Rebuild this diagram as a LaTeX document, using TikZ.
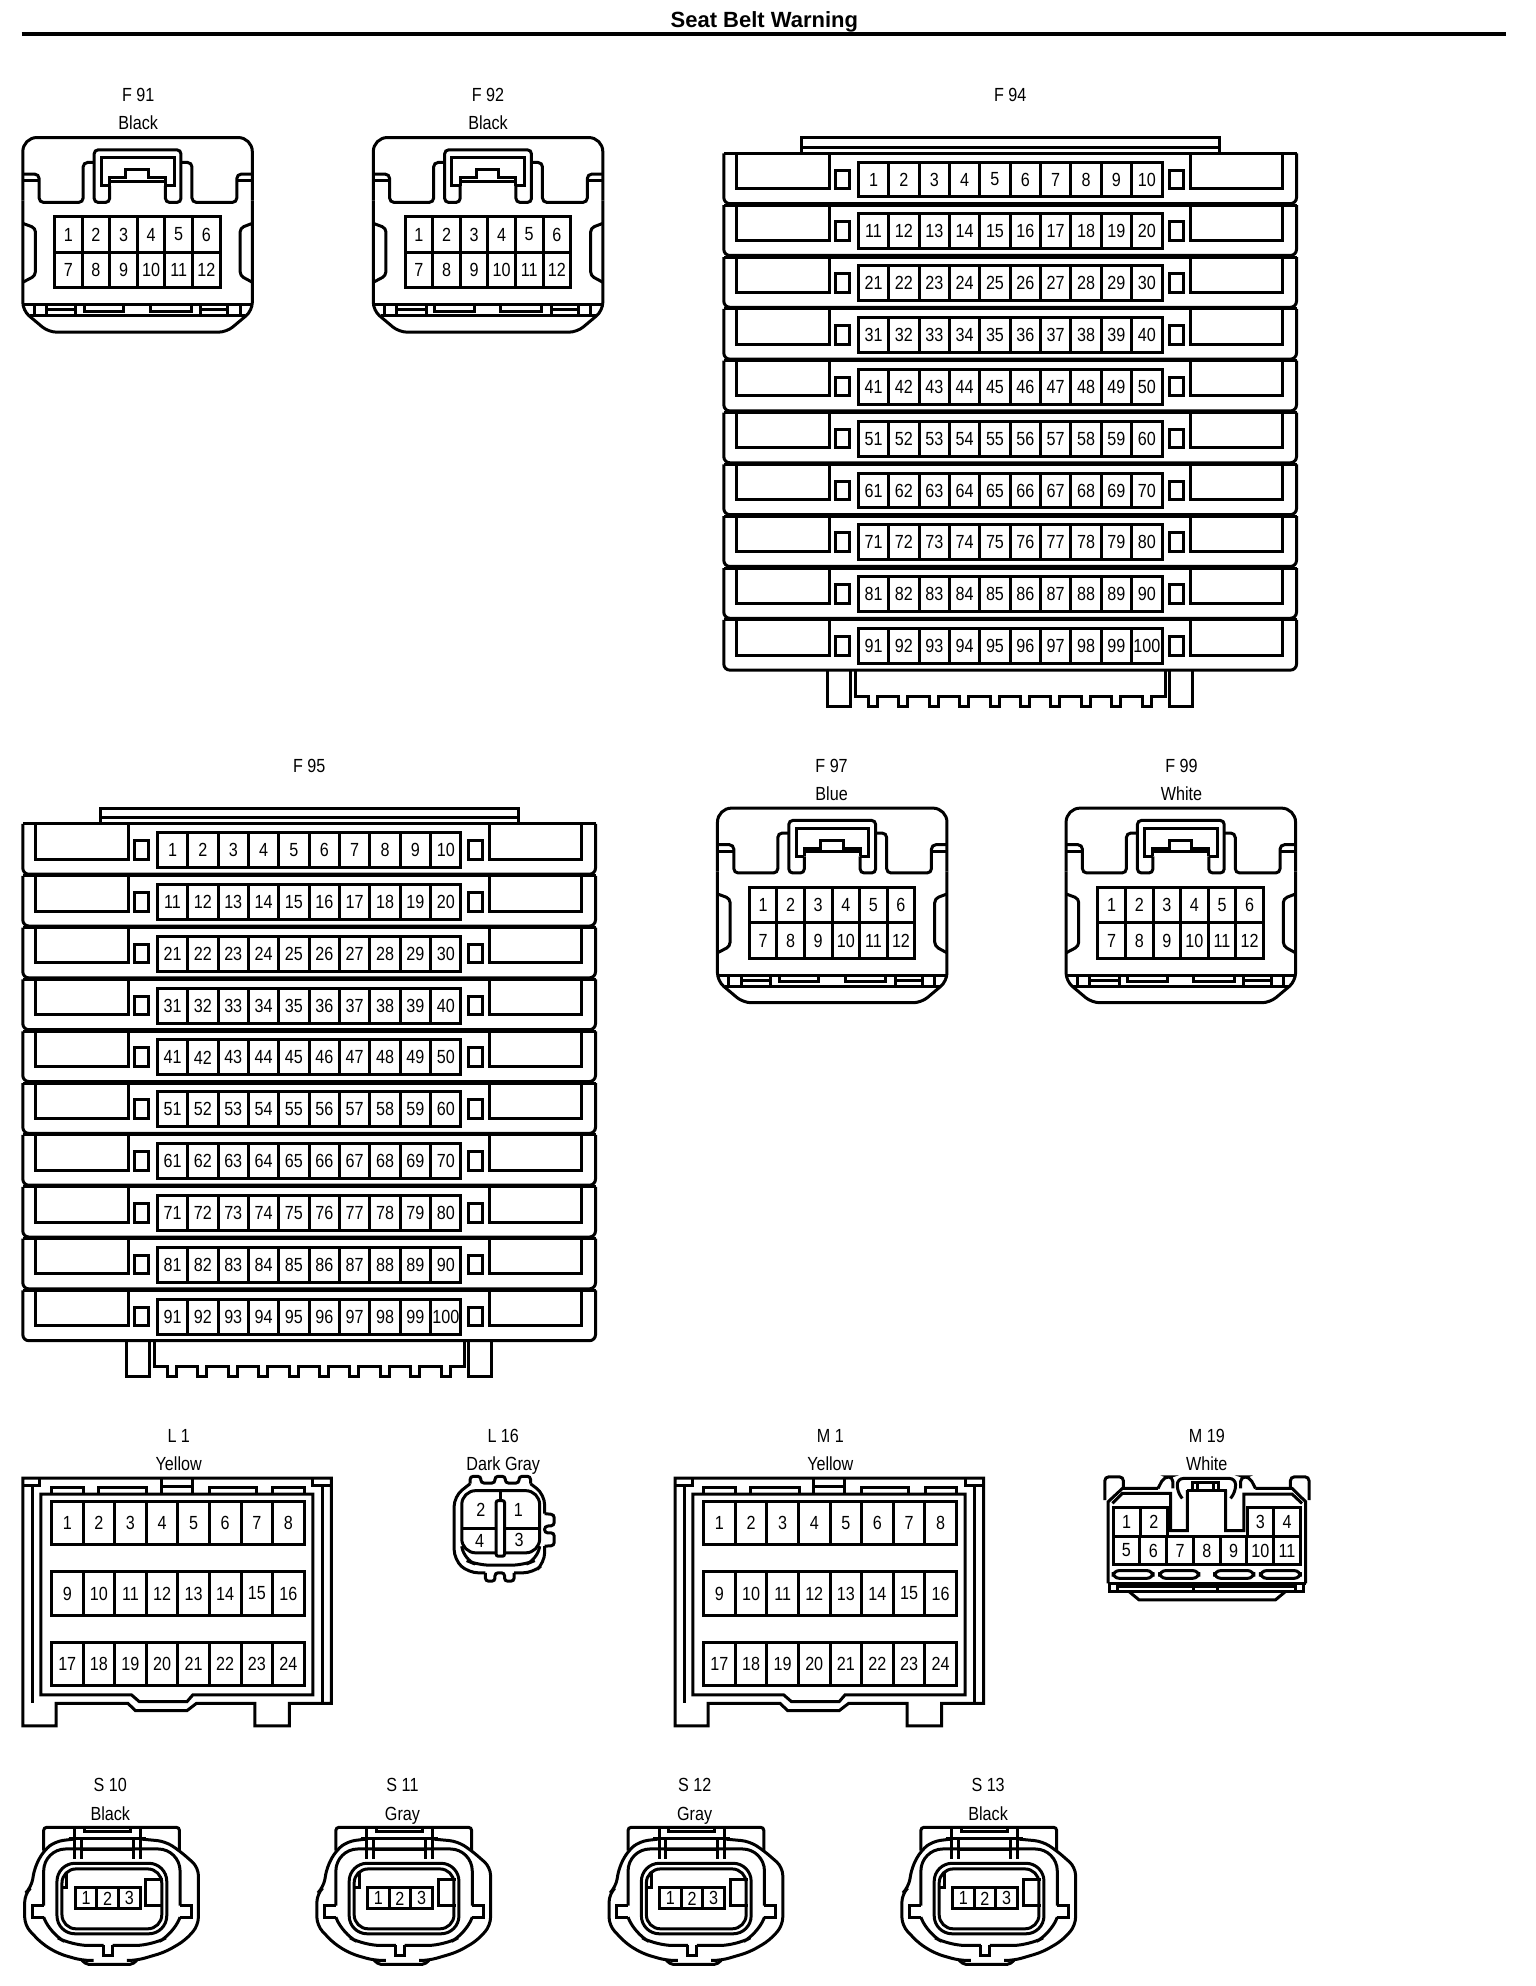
\documentclass[tikz,border=0pt]{standalone}
\usepackage{fontspec}
\setmainfont{Liberation Sans}
\newfontfamily\cellfont[FakeStretch=0.85]{Liberation Sans}
\newcommand\cellrow[7]{%
  \foreach \i in {1,...,#6}{%
    \pgfmathtruncatemacro\cnum{#7+\i-1}%
    \draw ({#2+(\i-1)*#4},{#3}) rectangle ({#2+\i*#4},{#3+#5});
    \node[celltext] (#1-\cnum) at ({#2+(\i-.5)*#4},{#3+#5/2}) {\cnum};
  }}
\newcommand\tag[4]{% name, x, y, text
  \node[lbl] (#1) at (#2,#3) {#4};}
% small 12-pin connector
\newcommand\tinyconn[3]{%
\begin{scope}[shift={(#2,#3)},x=0.2038pt,y=-0.16634pt,shift={(-57,-410)}]
  \draw[rounded corners=7pt] (57,600) -- (57,410) -- (620,410) -- (620,600);
  \draw[rounded corners=4pt] (57,600) -- (57,930) -- (120,995) -- (557,995) -- (620,930) -- (620,600);
  \draw[rounded corners=2.2pt] (57,520) -- (97,520) -- (97,605) -- (205,605) -- (205,485) -- (232,485);
  \draw (57,540) -- (97,540) (620,540) -- (582,540);
  \draw[rounded corners=2.2pt] (620,520) -- (582,520) -- (582,605) -- (472,605) -- (472,485) -- (445,485);
  \draw[rounded corners=2pt] (270,555) -- (270,605) -- (232,605) -- (232,447) -- (445,447) -- (445,605) -- (407,605) -- (407,555);
  \draw (270,555) -- (250,555) -- (250,470) -- (428,470) -- (428,555) -- (407,555);
  \draw (270,555) -- (270,530) -- (310,530) -- (310,507) -- (365,507) -- (365,530) -- (407,530) -- (407,555);
  \draw (270,541) -- (407,541);
  \draw[rounded corners=2pt] (57,668) -- (88,682) -- (88,825) -- (57,845);
  \draw[rounded corners=2pt] (620,668) -- (590,682) -- (590,825) -- (620,845);
  \cellrow{#1}{135}{648}{67.67}{107}{6}{1}
  \cellrow{#1}{135}{755}{67.67}{107}{6}{7}
  \draw (57,912) -- (620,912) (75,945) -- (603,945);
  \draw (85,912) -- (85,945) (115,912) -- (115,945) (187,912) -- (187,945);
  \draw (117,928) -- (187,928);
  \draw (208,912) -- (208,932) -- (305,932) -- (305,912);
  \draw (370,912) -- (370,932) -- (470,932) -- (470,912);
  \draw (493,912) -- (493,945) (560,912) -- (560,945) (590,912) -- (590,945);
  \draw (493,928) -- (560,928);
\end{scope}}
% 100-pin connector
\newcommand\rackconn[3]{%
\begin{scope}[shift={(#2,#3)},x=0.2038pt,y=-0.16634pt,shift={(-55,-97)}]
  \draw (245,97) -- (245,50) -- (1270,50) -- (1270,97);
  \draw (245,78) -- (1270,78);
  \foreach \r in {0,...,9}{%
    \pgfmathtruncatemacro\st{10*\r+1}%
    \begin{scope}[shift={(0,\r*155.8)}]
      \draw (55,97) -- (1460,97);
      \draw[rounded corners=3pt] (55,97) -- (55,248) -- (1460,248) -- (1460,97);
      \draw (85,97) -- (85,203) -- (315,203) -- (315,97);
      \draw (1200,97) -- (1200,203) -- (1425,203) -- (1425,97);
      \draw (330,147) rectangle (363,203);
      \draw (1148,147) rectangle (1182,203);
      \cellrow{#1}{385}{123}{74.5}{105}{10}{\st}
    \end{scope}}
  \draw (310,1651) -- (310,1759) -- (365,1759) -- (365,1651);
  \draw (1148,1651) -- (1148,1759) -- (1205,1759) -- (1205,1651);
  \draw (378,1651) -- (378,1729)
    foreach \k in {0,...,9}{ -- ({410+\k*74.6},1729) -- ({410+\k*74.6},1759) -- ({432+\k*74.6},1759) -- ({432+\k*74.6},1729)}
    -- (1138,1729) -- (1138,1651);
\end{scope}}
% 24-pin connector
\newcommand\boxconn[3]{%
\begin{scope}[shift={(#2,#3)},x=0.1909pt,y=-0.16634pt,shift={(-60,-170)}]
  \draw (147,847) -- (147,915) -- (60,915) -- (60,170) -- (868,170) -- (868,847) -- (758,847) -- (758,915) -- (668,915) -- (668,847) -- (515,847) -- (490,869) -- (355,869) -- (335,847) -- cycle;
  \draw (85,193) -- (85,847) (845,193) -- (845,847);
  \draw (60,193) -- (105,193) -- (105,170) (868,193) -- (820,193) -- (820,170);
  \draw (107,218) -- (107,822) -- (345,822) -- (365,842) -- (490,842) -- (505,822) -- (820,822) -- (820,218) -- cycle;
  \draw (135,218) -- (135,197) -- (218,197) -- (218,218);
  \draw (258,218) -- (258,197) -- (385,197) -- (385,218);
  \draw (423,170) -- (423,218) (505,170) -- (505,218) (423,195) -- (505,195);
  \draw (548,218) -- (548,197) -- (672,197) -- (672,218);
  \draw (715,218) -- (715,197) -- (798,197) -- (798,218);
  \cellrow{#1}{135}{240}{82.75}{130}{8}{1}
  \cellrow{#1}{135}{452}{82.75}{130}{8}{9}
  \cellrow{#1}{135}{664}{82.75}{130}{8}{17}
\end{scope}}
% 3-pin sensor connector
\newcommand\sensor[3]{%
\begin{scope}[shift={(#2,#3)},x=0.16634pt,y=-0.16634pt,shift={(-8,-168)}]
  \draw[rounded corners=1.5pt] (65,240) -- (65,170) -- (473,170) -- (473,240);
  \draw (158,170) -- (158,205) (355,170) -- (355,205) (158,205) -- (158,265) (355,205) -- (355,265) (178,205) -- (178,265) (335,205) -- (335,265);
  \draw (188,172) -- (188,182) -- (325,182) -- (325,172);
  \draw (140,205) -- (372,205) (178,238) -- (335,238);
  \draw[rounded corners=4pt] (158,205) -- (100,212) -- (65,240) -- (38,290) -- (28,350) -- (8,370) -- (8,465) -- (60,520) -- (110,550) -- (180,570) -- (215,570);
  \draw[rounded corners=1pt] (180,570) -- (195,582) -- (330,582) -- (345,570);
  \draw[rounded corners=4pt] (315,570) -- (345,570) -- (430,545) -- (490,510) -- (530,465) -- (530,290) -- (473,240) -- (430,212) -- (355,205);
  \draw[rounded corners=11pt] (65,405) -- (65,235) -- (475,235) -- (475,405);
  \draw (65,405) -- (30,405) -- (30,440) -- (65,440);
  \draw (475,405) -- (508,405) -- (508,440) -- (475,440);
  \draw[rounded corners=8pt] (65,440) -- (85,490) -- (150,525) -- (245,525);
  \draw (245,525) -- (245,555) -- (272,555) -- (272,525);
  \draw[rounded corners=8pt] (272,525) -- (390,525) -- (455,490) -- (475,440);
  \draw[rounded corners=9pt,fill=white] (105,278) rectangle (435,490);
  \draw[rounded corners=7pt] (120,295) rectangle (420,475);
  \draw (122,350) -- (135,350) -- (135,305);
  \cellrow{#1}{160}{352}{65}{63}{3}{1}
  \draw (425,328) -- (372,328) -- (372,405) -- (425,405);
\end{scope}}
\begin{document}
\begin{tikzpicture}[x=0.6338pt,y=-0.6338pt,line width=1.5pt,
  celltext/.style={inner sep=0pt,font=\cellfont\fontsize{9.5}{10}\selectfont},
  lbl/.style={inner sep=0pt,text height=6.5pt,text depth=0pt,font=\cellfont\fontsize{9.5}{10}\selectfont}]
\useasboundingbox (0,0) rectangle (1211.7,1566.7);
\node[inner sep=0pt,font=\bfseries\fontsize{11}{12}\selectfont] (title) at (603,17) {Seat Belt Warning};
\draw[line width=2pt] (17,27) -- (1188,27);

\tag{F91a}{109}{75}{F 91}\tag{F91b}{109}{97}{Black}
\tag{F92a}{385}{75}{F 92}\tag{F92b}{385}{97}{Black}
\tag{F94a}{797}{75}{F 94}
\tag{F95a}{244}{604}{F 95}
\tag{F97a}{656}{604}{F 97}\tag{F97b}{656}{626}{Blue}
\tag{F99a}{932}{604}{F 99}\tag{F99b}{932}{626}{White}
\tag{L1a}{141}{1133}{L 1}\tag{L1b}{141}{1155}{Yellow}
\tag{L16a}{397}{1133}{L 16}\tag{L16b}{397}{1155}{Dark Gray}
\tag{M1a}{655}{1133}{M 1}\tag{M1b}{655}{1155}{Yellow}
\tag{M19a}{952}{1133}{M 19}\tag{M19b}{952}{1155}{White}
\tag{S10a}{87}{1408}{S 10}\tag{S10b}{87}{1431}{Black}
\tag{S11a}{317.5}{1408}{S 11}\tag{S11b}{317.5}{1431}{Gray}
\tag{S12a}{548}{1408}{S 12}\tag{S12b}{548}{1431}{Gray}
\tag{S13a}{779.5}{1408}{S 13}\tag{S13b}{779.5}{1431}{Black}

\tinyconn{F91}{18}{108.5}
\tinyconn{F92}{294.5}{108.5}
\tinyconn{F97}{566}{637.5}
\tinyconn{F99}{841}{637.5}
\rackconn{F94}{571}{121}
\rackconn{F95}{18}{650}
\boxconn{L1}{18}{1166}
\boxconn{M1}{532.5}{1166}
\sensor{S10}{19.5}{1441}
\sensor{S11}{250}{1441}
\sensor{S12}{480.5}{1441}
\sensor{S13}{711.5}{1441}

% L16
\begin{scope}[shift={(395,1204)},x=0.1909pt,y=-0.16634pt,shift={(-1310,-320)}]
  \draw[rounded corners=1.5pt] (1230,192) -- (1230,170) -- (1258,170) -- (1258,190) -- (1295,190) -- (1295,170) -- (1322,170) -- (1322,190) -- (1358,190) -- (1358,170) -- (1388,170) -- (1388,192);
  \draw[rounded corners=5pt] (1388,192) -- (1425,225) -- (1425,282);
  \draw[rounded corners=1.5pt] (1425,282) -- (1450,285) -- (1450,318) -- (1425,320) -- (1425,340) -- (1450,340) -- (1450,378) -- (1425,380);
  \draw[rounded corners=5pt] (1425,380) -- (1425,430) -- (1395,460) -- (1345,460);
  \draw[rounded corners=1.5pt] (1345,460) -- (1345,485) -- (1320,485) -- (1320,460) -- (1295,460) -- (1295,485) -- (1270,485) -- (1270,460);
  \draw[rounded corners=5pt] (1270,460) -- (1225,460) -- (1188,420) -- (1188,230) -- (1230,192);
  \draw[rounded corners=7pt] (1208,213) rectangle (1412,400);
  \draw[rounded corners=6pt] (1208,380) -- (1214,420) -- (1250,437) -- (1370,437) -- (1406,420) -- (1412,380);
  \draw (1208,328) -- (1412,328);
  \draw (1310,213) -- (1310,243);
  \draw[rounded corners=1pt,fill=white] (1298,243) rectangle (1320,410);
  \node[celltext] (L16-2) at (1258,270) {2};
  \node[celltext] (L16-1) at (1356,270) {1};
  \node[celltext] (L16-4) at (1255,365) {4};
  \node[celltext] (L16-3) at (1358,362) {3};
\end{scope}

% M19
\begin{scope}[shift={(871,1165)},x=0.16634pt,y=-0.16634pt,shift={(-70,-170)}]
  \draw[rounded corners=2pt] (72,240) -- (72,170) -- (128,170) -- (128,208);
  \draw[rounded corners=2pt] (686,240) -- (686,170) -- (630,170) -- (630,208);
  \draw (82,490) -- (82,245) -- (125,205) -- (232,205);
  \draw (676,490) -- (676,245) -- (635,205) -- (525,205);
  \draw (95,250) -- (125,220) -- (270,220) -- (270,332) -- (320,332) -- (320,210);
  \draw (665,250) -- (635,222) -- (490,222) -- (490,332) -- (435,332) -- (435,210);
  \draw[rounded corners=2.5pt] (232,205) -- (250,170) -- (277,170) -- (277,205);
  \draw[rounded corners=2.5pt] (480,205) -- (480,170) -- (507,170) -- (525,205);
  \draw[rounded corners=3pt] (305,235) -- (290,215) -- (290,175) -- (465,175) -- (465,215) -- (450,235);
  \draw (320,210) -- (438,210);
  \draw (335,210) -- (335,188) -- (415,188) -- (415,210) (350,188) -- (350,210) (400,188) -- (400,210);
  \cellrow{M19}{97}{262}{81.5}{86}{2}{1}
  \cellrow{M19}{500}{262}{80}{86}{2}{3}
  \cellrow{M19}{97}{348}{80.43}{87}{7}{5}
  \draw[rounded corners=3pt] (97,452) rectangle (217,475);
  \draw[rounded corners=3pt] (237,452) rectangle (355,475);
  \draw[rounded corners=3pt] (402,452) rectangle (520,475);
  \draw[rounded corners=3pt] (540,452) rectangle (660,475);
  \draw (82,490) -- (676,490);
  \draw (87,490) -- (87,515) -- (670,515) -- (670,490);
  \draw (110,490) -- (110,515) (645,490) -- (645,515);
  \draw (110,500) -- (645,500) (340,500) -- (340,515) (410,500) -- (410,515);
  \draw (145,515) -- (175,540) -- (585,540) -- (615,515);
\end{scope}
\end{tikzpicture}
\end{document}
